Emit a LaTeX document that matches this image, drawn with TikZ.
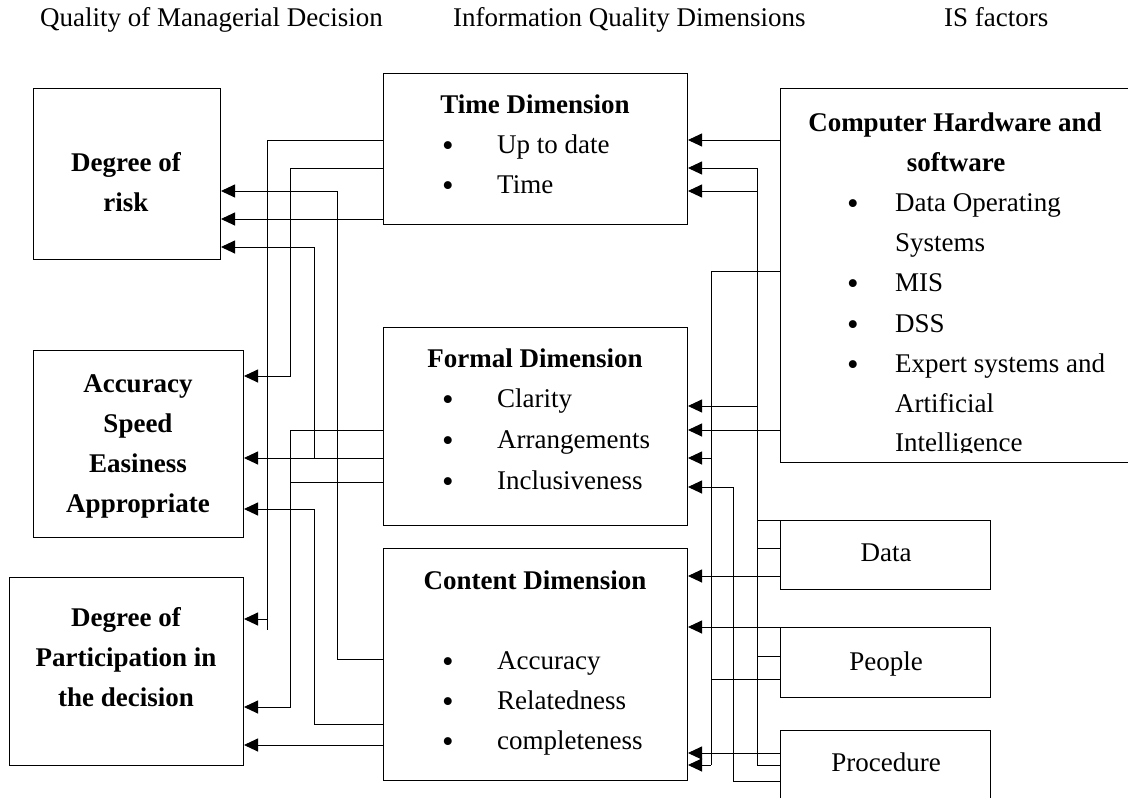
\documentclass[tikz,border=0pt]{standalone}
\usepackage{fontspec}
\setmainfont{Liberation Serif}
\usetikzlibrary{arrows.meta}
\begin{document}
\begin{tikzpicture}[x=1pt,y=-1pt,
  box/.style={draw, line width=1pt, inner sep=0pt, anchor=north west},
  conn/.style={line width=0.9pt},
  arr/.style={line width=0.9pt, -{Triangle[length=14pt,width=13pt]}},
  txt/.style={font=\fontsize{27}{30}\selectfont, inner sep=0pt, yshift=-7pt},
  btxt/.style={font=\fontsize{27}{30}\selectfont\bfseries, inner sep=0pt, yshift=-7pt},
  bul/.style={font=\fontsize{33}{30}\selectfont, inner sep=0pt, anchor=mid, yshift=-10pt},
]
\useasboundingbox (0,0) rectangle (1128,798);
\clip (0,0) rectangle (1128,798);
\fill[white] (0,0) rectangle (1128,798);

% headers
\node[txt, anchor=mid west] (h1) at (40,17) {Quality of Managerial Decision};
\node[txt, anchor=mid west] (h2) at (453,17) {Information Quality Dimensions};
\node[txt, anchor=mid west] (h3) at (944,17) {IS factors};

% boxes
\node[box, minimum width=187pt, minimum height=171pt] (risk) at (33,88) {};
\node[box, minimum width=210pt, minimum height=187pt] (acc) at (33,350) {};
\node[box, minimum width=234pt, minimum height=188pt] (part) at (9,577) {};
\node[box, minimum width=304pt, minimum height=151pt] (time) at (383,73) {};
\node[box, minimum width=304pt, minimum height=198pt] (formal) at (383,327) {};
\node[box, minimum width=304pt, minimum height=232pt] (content) at (383,548) {};
\node[box, minimum width=360pt, minimum height=374pt] (comp) at (780,88) {};
\node[box, minimum width=210pt, minimum height=69pt] (data) at (780,520) {};
\node[box, minimum width=210pt, minimum height=70pt] (people) at (780,627) {};
\node[box, minimum width=210pt, minimum height=90pt] (proc) at (780,730) {};

% left-hand texts
\node[btxt, anchor=mid] (r1) at (126,162) {Degree of};
\node[btxt, anchor=mid] (r2) at (126,202) {risk};
\node[btxt, anchor=mid] (a1) at (138,383) {Accuracy};
\node[btxt, anchor=mid] (a2) at (138,423) {Speed};
\node[btxt, anchor=mid] (a3) at (138,463) {Easiness};
\node[btxt, anchor=mid] (a4) at (138,503) {Appropriate};
\node[btxt, anchor=mid] (p1) at (126,617) {Degree of};
\node[btxt, anchor=mid] (p2) at (126,657) {Participation in};
\node[btxt, anchor=mid] (p3) at (126,697) {the decision};

% dimension texts
\node[btxt, anchor=mid] (t0) at (535,104) {Time Dimension};
\node[bul] (tb1) at (448,144) {\textbullet};
\node[txt, anchor=mid west] (t1) at (497,144) {Up to date};
\node[bul] (tb2) at (448,184) {\textbullet};
\node[txt, anchor=mid west] (t2) at (497,184) {Time};

\node[btxt, anchor=mid] (f0) at (535,358) {Formal Dimension};
\node[bul] (fb1) at (448,398) {\textbullet};
\node[txt, anchor=mid west] (f1) at (497,398) {Clarity};
\node[bul] (fb2) at (448,439) {\textbullet};
\node[txt, anchor=mid west] (f2) at (497,439) {Arrangements};
\node[bul] (fb3) at (448,480) {\textbullet};
\node[txt, anchor=mid west] (f3) at (497,480) {Inclusiveness};

\node[btxt, anchor=mid] (c0) at (535,580) {Content Dimension};
\node[bul] (cb1) at (448,660) {\textbullet};
\node[txt, anchor=mid west] (c1) at (497,660) {Accuracy};
\node[bul] (cb2) at (448,700) {\textbullet};
\node[txt, anchor=mid west] (c2) at (497,700) {Relatedness};
\node[bul] (cb3) at (448,740) {\textbullet};
\node[txt, anchor=mid west] (c3) at (497,740) {completeness};

% IS factor texts
\node[btxt, anchor=mid] (k0) at (955,122) {Computer Hardware and};
\node[btxt, anchor=mid] (k00) at (956,162) {software};
\node[bul] (kb1) at (853,202) {\textbullet};
\node[txt, anchor=mid west] (k1) at (895,202) {Data Operating};
\node[txt, anchor=mid west] (k1b) at (895,242) {Systems};
\node[bul] (kb2) at (853,282) {\textbullet};
\node[txt, anchor=mid west] (k2) at (895,282) {MIS};
\node[bul] (kb3) at (853,323) {\textbullet};
\node[txt, anchor=mid west] (k3) at (895,323) {DSS};
\node[bul] (kb4) at (853,363) {\textbullet};
\node[txt, anchor=mid west] (k4) at (895,363) {Expert systems and};
\node[txt, anchor=mid west] (k4b) at (895,403) {Artificial};
\begin{scope}
\clip (780,420) rectangle (1128,452);
\node[txt, anchor=mid west] (k4c) at (895,442) {Intelligence};
\end{scope}

\node[txt, anchor=mid] (d0) at (886,552) {Data};
\node[txt, anchor=mid] (pp0) at (886,661) {People};
\node[txt, anchor=mid] (pr0) at (886,762) {Procedure};

% connectors: dimensions -> decision quality
\draw[arr] (time.west|-0,140) -- (267,140) -- (267,619) -- (part.east|-0,619);
\draw[conn] (267,619) -- (267,630);
\draw[arr] (time.west|-0,168) -- (290,168) -- (290,376) -- (acc.east|-0,376);
\draw[arr] (time.west|-0,219) -- (risk.east|-0,219);
\draw[arr] (content.west|-0,659) -- (337,659) -- (337,191) -- (risk.east|-0,191);
\draw[arr] (formal.west|-0,458) -- (acc.east|-0,458);
\draw[arr] (314,458) -- (314,247) -- (risk.east|-0,247);
\draw[arr] (content.west|-0,724) -- (314,724) -- (314,509) -- (acc.east|-0,509);
\draw[arr] (formal.west|-0,430) -- (290,430) -- (290,707) -- (part.east|-0,707);
\draw[conn] (formal.west|-0,482) -- (290,482);
\draw[arr] (content.west|-0,745) -- (part.east|-0,745);

% connectors: IS factors -> dimensions
\draw[arr] (comp.west|-0,140) -- (time.east|-0,140);
\draw[conn] (757,168) -- (757,765);
\draw[arr] (757,168) -- (time.east|-0,168);
\draw[arr] (757,191) -- (time.east|-0,191);
\draw[arr] (757,406) -- (formal.east|-0,406);
\draw[conn] (data.west|-0,520) -- (757,520);
\draw[conn] (data.west|-0,548) -- (757,548);
\draw[conn] (people.west|-0,656) -- (757,656);
\draw[conn] (proc.west|-0,765) -- (757,765);
\draw[arr] (comp.west|-0,430) -- (formal.east|-0,430);
\draw[conn] (comp.west|-0,271) -- (711,271) -- (711,765);
\draw[arr] (711,458) -- (formal.east|-0,458);
\draw[arr] (711,765) -- (content.east|-0,765);
\draw[conn] (people.west|-0,679) -- (711,679);
\draw[arr] (proc.west|-0,781) -- (733,781) -- (733,487) -- (formal.east|-0,487);
\draw[arr] (data.west|-0,576) -- (content.east|-0,576);
\draw[arr] (people.west|-0,627) -- (content.east|-0,627);
\draw[arr] (proc.west|-0,753) -- (content.east|-0,753);
\end{tikzpicture}
\end{document}
